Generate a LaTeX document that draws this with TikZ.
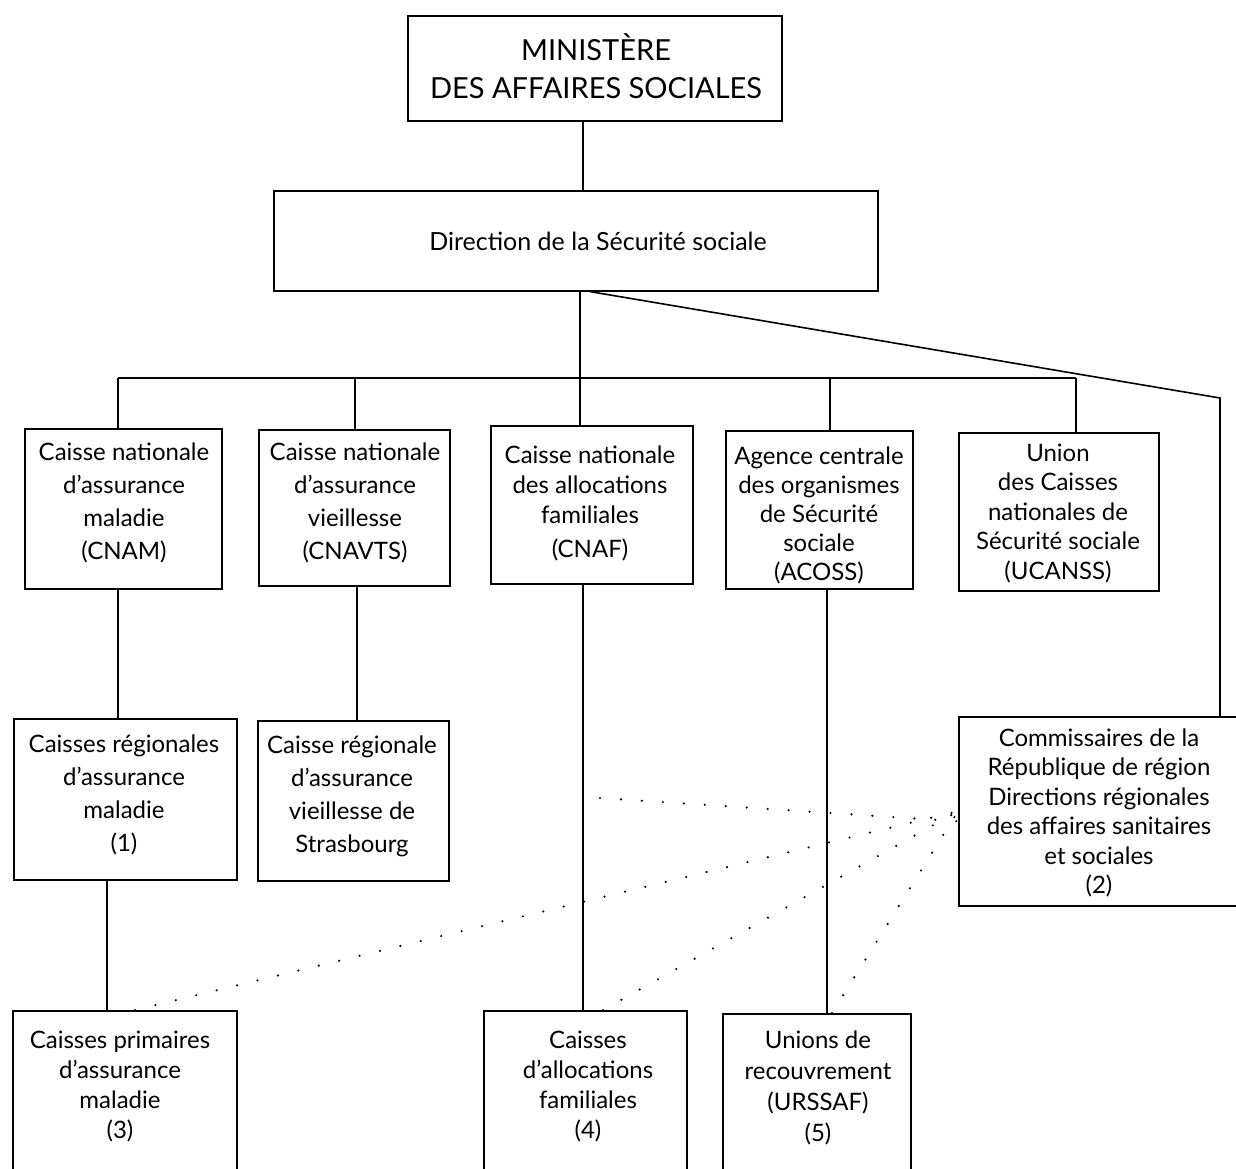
\documentclass[tikz,border=0pt]{standalone}
\usepackage{fontspec}
\setmainfont{Lato}
\begin{document}
\begin{tikzpicture}[x=1pt,y=-1pt,
  box/.style={draw, line width=1.6pt, inner sep=0pt, anchor=north west},
  txt/.style={align=center, inner sep=0pt, font=\fontsize{24}{33}\selectfont},
  link/.style={line width=1.6pt},
  dots/.style={line width=2.4pt, line cap=round, dash pattern=on 0pt off 21pt}]
\useasboundingbox (0,0) rectangle (1236,1169);
\fill[white] (0,0) rectangle (1236,1169);

% boxes
\node[box, minimum width=374, minimum height=105] (min) at (407,15) {};
\node[box, minimum width=604, minimum height=100] (dss) at (273,190) {};
\node[box, minimum width=197, minimum height=160] (cnam) at (24,428) {};
\node[box, minimum width=191, minimum height=156] (cnavts) at (258,429) {};
\node[box, minimum width=202, minimum height=158] (cnaf) at (490,425) {};
\node[box, minimum width=187, minimum height=158] (acoss) at (725,430) {};
\node[box, minimum width=200, minimum height=158] (ucanss) at (958,432) {};
\node[box, minimum width=223, minimum height=161] (cram) at (13,718) {};
\node[box, minimum width=191, minimum height=160] (crav) at (257,720) {};
\node[box, minimum width=224, minimum height=180] (cpam) at (12,1010) {};
\node[box, minimum width=203, minimum height=180] (caf) at (483,1010) {};
\node[box, minimum width=188, minimum height=180] (urssaf) at (722,1013) {};
\node[box, minimum width=290, minimum height=189] (cdr) at (958,716) {};

% texts
\node[txt, font=\fontsize{29}{38}\selectfont] (t-min) at (596,66) {MINISTÈRE\\DES AFFAIRES SOCIALES};
\node[txt, font=\fontsize{25}{33}\selectfont] (t-dss) at (598,241) {Direction de la Sécurité sociale};
\node[txt] (t-cnam) at (124,503) {Caisse nationale\\d'assurance\\maladie\\(CNAM)};
\node[txt] (t-cnavts) at (355,503) {Caisse nationale\\d'assurance\\vieillesse\\(CNAVTS)};
\node[txt, font=\fontsize{24}{30}\selectfont] (t-cnaf) at (590,503) {Caisse nationale\\des allocations\\familiales\\[4pt](CNAF)};
\node[txt, font=\fontsize{24}{29}\selectfont] (t-acoss) at (819,515) {Agence centrale\\des organismes\\de Sécurité\\sociale\\(ACOSS)};
\node[txt, font=\fontsize{24}{29.5}\selectfont] (t-ucanss) at (1058,513) {Union\\des Caisses\\nationales de\\Sécurité sociale\\(UCANSS)};
\node[txt] (t-cram) at (124,795) {Caisses régionales\\d'assurance\\maladie\\(1)};
\node[txt] (t-crav) at (352,796) {Caisse régionale\\d'assurance\\vieillesse de\\Strasbourg};
\node[txt, font=\fontsize{24}{30}\selectfont] (t-cpam) at (120,1086) {Caisses primaires\\d'assurance\\maladie\\(3)};
\node[txt, font=\fontsize{24}{30}\selectfont] (t-caf) at (588,1086) {Caisses\\d'allocations\\familiales\\(4)};
\node[txt, font=\fontsize{24}{31}\selectfont] (t-urssaf) at (818,1088) {Unions de\\recouvrement\\(URSSAF)\\(5)};
\node[txt, font=\fontsize{24}{29.5}\selectfont] (t-cdr) at (1099,813) {Commissaires de la\\République de région\\Directions régionales\\des affaires sanitaires\\et sociales\\(2)};

% bus coordinates
\coordinate (b1) at (118,378);
\coordinate (b2) at (355,378);
\coordinate (b3) at (580,378);
\coordinate (b4) at (830,378);
\coordinate (b5) at (1076,378);
\coordinate (k) at (1220,398);

% connectors
\draw[link] (min.south -| 583,0) -- (dss.north -| 583,0);
\draw[link] (dss.south -| b3) -- (b3);
\draw[link] (b1) -- (b5);
\draw[link] (b1) -- (cnam.north -| b1);
\draw[link] (b2) -- (cnavts.north -| b2);
\draw[link] (b3) -- (cnaf.north -| b3);
\draw[link] (b4) -- (acoss.north -| b4);
\draw[link] (b5) -- (ucanss.north -| b5);
\draw[link] (dss.south -| 590,0) -- (k) -- (cdr.north -| k);
\draw[link] (cnam.south -| 118,0) -- (cram.north -| 118,0);
\draw[link] (cnavts.south -| 357,0) -- (crav.north -| 357,0);
\draw[link] (cram.south -| 107,0) -- (cpam.north -| 107,0);
\draw[link] (cnaf.south -| 583,0) -- (caf.north -| 583,0);
\draw[link] (acoss.south -| 827,0) -- (urssaf.north -| 827,0);

% dotted links
\coordinate (e1) at (600,798);
\draw[dots] (e1) -- ([yshift=-10pt]cdr.west);
\draw[dots] (cpam.north -| 135,0) -- (cdr.west);
\draw[dots] (caf.north -| 603,0) -- (cdr.west);
\draw[dots] (urssaf.north -| 832,0) -- (cdr.west);
\end{tikzpicture}
\end{document}
